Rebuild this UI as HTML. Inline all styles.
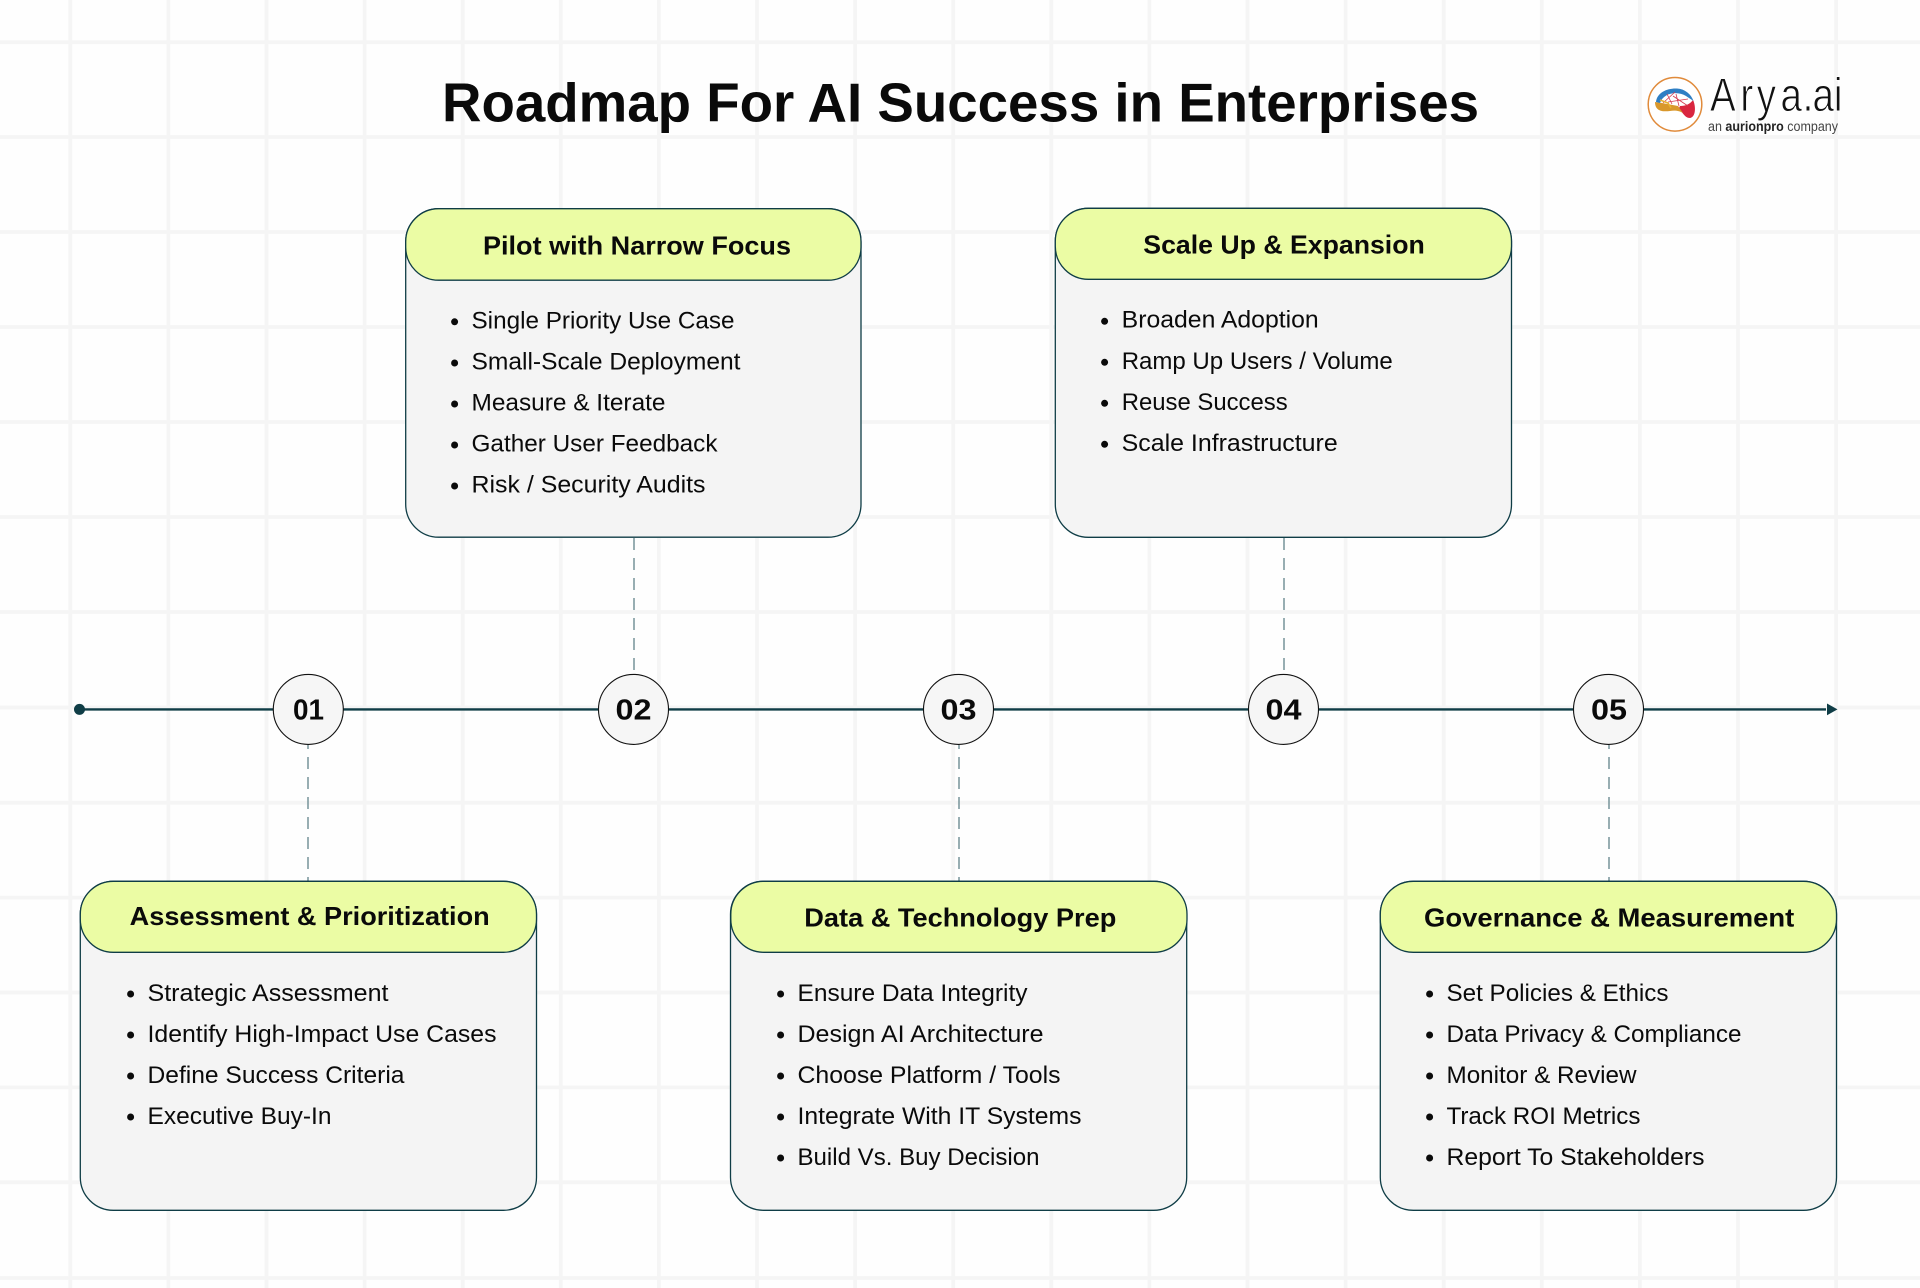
<!DOCTYPE html>
<html><head><meta charset="utf-8"><title>Roadmap For AI Success in Enterprises</title>
<style>
html,body{margin:0;padding:0;background:#fefefe}
svg{display:block}
text{font-family:"Liberation Sans",sans-serif;fill:#0a0a0a}
.h{font-size:26px;font-weight:700}
.l{font-size:24px}
.n{font-size:29px;font-weight:700}
</style></head><body>
<svg width="1920" height="1288" viewBox="0 0 1920 1288" xmlns="http://www.w3.org/2000/svg">
<rect width="1920" height="1288" fill="#fefefe"/>
<g stroke="#f5f5f5" stroke-width="3.8" fill="none">
<path d="M70.3 0V1288M168.4 0V1288M266.5 0V1288M364.6 0V1288M462.7 0V1288M560.8 0V1288M658.9 0V1288M757 0V1288M855.1 0V1288M953.2 0V1288M1051.3 0V1288M1149.4 0V1288M1247.5 0V1288M1345.6 0V1288M1443.7 0V1288M1541.8 0V1288M1639.9 0V1288M1738 0V1288M1836.1 0V1288"/>
<path d="M0 42.2H1920M0 137H1920M0 232H1920M0 327H1920M0 422H1920M0 517H1920M0 612H1920M0 707.5H1920M0 802.7H1920M0 897.6H1920M0 992.5H1920M0 1087.4H1920M0 1182.3H1920M0 1278H1920"/>
</g>

<text x="442" y="121.7" font-size="54.5" font-weight="700" textLength="1037" lengthAdjust="spacingAndGlyphs">Roadmap For AI Success in Enterprises</text>

<!-- logo -->
<circle cx="1675" cy="104.3" r="26.8" fill="#fff" stroke="#e08a3a" stroke-width="1.5"/>
<path d="M1680 106C1686 106 1690 104 1693 100C1696 106 1696 117 1690 118C1684 118 1684 112 1678 110Z" fill="#d9263f"/>
<path d="M1655 102C1655 111 1662 112 1670 111C1675 110 1680 111 1683 113L1678 106L1662 103Z" fill="#d9982c"/>
<path d="M1656 102C1657 92 1668 88 1677 88.5C1685 89 1691 94 1693.500 101L1686 96C1678 91 1664 92 1660 103Z" fill="#2f7fc4"/>
<path d="M1667 94L1672 104M1676 94L1679 106M1668 102L1688 99M1673 96L1688 106M1663 103L1675 92" stroke="#d6394f" stroke-width="0.8" fill="none"/>
<path d="M1660 100L1668 103L1671 108" stroke="#e7b12f" stroke-width="1.6" fill="none"/>
<g transform="translate(1710 111) scale(.82 1)"><text x="0 37 57 86 113 125 151" y="0" font-size="47" style="fill:#111;stroke:#fefefe;stroke-width:.9">Arya.ai</text></g>
<text x="1708" y="131" font-size="13.5" textLength="130" lengthAdjust="spacingAndGlyphs" style="fill:#444">an <tspan font-weight="700" style="fill:#222">aurionpro</tspan> company</text>

<!-- timeline -->
<path d="M80 709.4H1826" stroke="#0f3d46" stroke-width="2.4"/>
<circle cx="79.5" cy="709.4" r="5.5" fill="#0f3d46"/>
<path d="M1827 703.5L1837.5 709.4L1827 715.2Z" fill="#0f3d46"/>

<g stroke="#7f9aa0" stroke-width="1.6" stroke-dasharray="12 8" fill="none">
<path d="M634 538V672"/><path d="M1284 538V672"/>
<path d="M308 745V881" stroke-dashoffset="8"/><path d="M959 745V881" stroke-dashoffset="8"/><path d="M1609 745V881" stroke-dashoffset="8"/>
</g>

<g fill="#f6f6f6" stroke="#111" stroke-width="1.1">
<circle cx="308.3" cy="709.4" r="35"/><circle cx="633.5" cy="709.4" r="35"/><circle cx="958.5" cy="709.4" r="35"/><circle cx="1283.5" cy="709.4" r="35"/><circle cx="1608.5" cy="709.4" r="35"/>
</g>
<text class="n" x="293" y="719.3" textLength="31" lengthAdjust="spacingAndGlyphs">01</text>
<text class="n" x="615.5" y="719.3" textLength="36" lengthAdjust="spacingAndGlyphs">02</text>
<text class="n" x="940.5" y="719.3" textLength="36" lengthAdjust="spacingAndGlyphs">03</text>
<text class="n" x="1265.5" y="719.3" textLength="36" lengthAdjust="spacingAndGlyphs">04</text>
<text class="n" x="1591" y="719.3" textLength="36" lengthAdjust="spacingAndGlyphs">05</text>

<!-- boxes -->
<g stroke="#0f3d46" stroke-width="1.3">
<rect x="405.7" y="208.7" width="455.3" height="328.5" rx="33" fill="#f4f4f4"/>
<rect x="405.7" y="208.7" width="455.3" height="71.5" rx="33" fill="#ebfca4"/>
<rect x="1055.3" y="208.3" width="456.2" height="329" rx="33" fill="#f4f4f4"/>
<rect x="1055.3" y="208.3" width="456.2" height="71" rx="33" fill="#ebfca4"/>
<rect x="80.3" y="881.3" width="456.2" height="329" rx="33" fill="#f4f4f4"/>
<rect x="80.3" y="881.3" width="456.2" height="71" rx="33" fill="#ebfca4"/>
<rect x="730.5" y="881.3" width="456.2" height="329" rx="33" fill="#f4f4f4"/>
<rect x="730.8" y="881.3" width="456.2" height="71" rx="33" fill="#ebfca4"/>
<rect x="1380.3" y="881.3" width="456.2" height="329" rx="33" fill="#f4f4f4"/>
<rect x="1380.3" y="881.3" width="456.2" height="71" rx="33" fill="#ebfca4"/>
</g>

<!-- Box 2 -->
<text class="h" x="483" y="254.3" textLength="308" lengthAdjust="spacingAndGlyphs">Pilot with Narrow Focus</text>
<g fill="#0a0a0a"><circle cx="454.6" cy="321.8" r="3.5"/><circle cx="454.6" cy="363" r="3.5"/><circle cx="454.6" cy="404" r="3.5"/><circle cx="454.6" cy="445" r="3.5"/><circle cx="454.6" cy="486" r="3.5"/></g>
<text class="l" x="471.5" y="328.3" textLength="263" lengthAdjust="spacingAndGlyphs">Single Priority Use Case</text>
<text class="l" x="471.5" y="369.5" textLength="269" lengthAdjust="spacingAndGlyphs">Small-Scale Deployment</text>
<text class="l" x="471.5" y="410.5" textLength="194" lengthAdjust="spacingAndGlyphs">Measure &amp; Iterate</text>
<text class="l" x="471.5" y="451.6" textLength="246" lengthAdjust="spacingAndGlyphs">Gather User Feedback</text>
<text class="l" x="471.5" y="492.7" textLength="234" lengthAdjust="spacingAndGlyphs">Risk / Security Audits</text>

<!-- Box 4 -->
<text class="h" x="1143.3" y="253.3" textLength="281.5" lengthAdjust="spacingAndGlyphs">Scale Up &amp; Expansion</text>
<g fill="#0a0a0a"><circle cx="1104.6" cy="321.3" r="3.5"/><circle cx="1104.6" cy="362.3" r="3.5"/><circle cx="1104.6" cy="403.3" r="3.5"/><circle cx="1104.6" cy="444.3" r="3.5"/></g>
<text class="l" x="1121.7" y="327.7" textLength="197" lengthAdjust="spacingAndGlyphs">Broaden Adoption</text>
<text class="l" x="1121.7" y="368.8" textLength="271" lengthAdjust="spacingAndGlyphs">Ramp Up Users / Volume</text>
<text class="l" x="1121.7" y="409.8" textLength="166" lengthAdjust="spacingAndGlyphs">Reuse Success</text>
<text class="l" x="1121.7" y="450.9" textLength="216" lengthAdjust="spacingAndGlyphs">Scale Infrastructure</text>

<!-- Box 1 -->
<text class="h" x="129.7" y="925" textLength="360" lengthAdjust="spacingAndGlyphs">Assessment &amp; Prioritization</text>
<g fill="#0a0a0a"><circle cx="130.6" cy="994" r="3.5"/><circle cx="130.6" cy="1035" r="3.5"/><circle cx="130.6" cy="1076" r="3.5"/><circle cx="130.6" cy="1117" r="3.5"/></g>
<text class="l" x="147.5" y="1001" textLength="241" lengthAdjust="spacingAndGlyphs">Strategic Assessment</text>
<text class="l" x="147.5" y="1042" textLength="349" lengthAdjust="spacingAndGlyphs">Identify High-Impact Use Cases</text>
<text class="l" x="147.5" y="1083" textLength="257" lengthAdjust="spacingAndGlyphs">Define Success Criteria</text>
<text class="l" x="147.5" y="1124" textLength="184" lengthAdjust="spacingAndGlyphs">Executive Buy-In</text>

<!-- Box 3 -->
<text class="h" x="804.3" y="926.7" textLength="312" lengthAdjust="spacingAndGlyphs">Data &amp; Technology Prep</text>
<g fill="#0a0a0a"><circle cx="780.6" cy="994" r="3.5"/><circle cx="780.6" cy="1035" r="3.5"/><circle cx="780.6" cy="1076" r="3.5"/><circle cx="780.6" cy="1117" r="3.5"/><circle cx="780.6" cy="1158" r="3.5"/></g>
<text class="l" x="797.5" y="1001" textLength="230" lengthAdjust="spacingAndGlyphs">Ensure Data Integrity</text>
<text class="l" x="797.5" y="1042" textLength="246" lengthAdjust="spacingAndGlyphs">Design AI Architecture</text>
<text class="l" x="797.5" y="1083" textLength="263" lengthAdjust="spacingAndGlyphs">Choose Platform / Tools</text>
<text class="l" x="797.5" y="1124" textLength="284" lengthAdjust="spacingAndGlyphs">Integrate With IT Systems</text>
<text class="l" x="797.5" y="1165" textLength="242" lengthAdjust="spacingAndGlyphs">Build Vs. Buy Decision</text>

<!-- Box 5 -->
<text class="h" x="1424" y="926.7" textLength="370.3" lengthAdjust="spacingAndGlyphs">Governance &amp; Measurement</text>
<g fill="#0a0a0a"><circle cx="1429.6" cy="994" r="3.5"/><circle cx="1429.6" cy="1035" r="3.5"/><circle cx="1429.6" cy="1076" r="3.5"/><circle cx="1429.6" cy="1117" r="3.5"/><circle cx="1429.6" cy="1158" r="3.5"/></g>
<text class="l" x="1446.5" y="1001" textLength="222" lengthAdjust="spacingAndGlyphs">Set Policies &amp; Ethics</text>
<text class="l" x="1446.5" y="1042" textLength="295" lengthAdjust="spacingAndGlyphs">Data Privacy &amp; Compliance</text>
<text class="l" x="1446.5" y="1083" textLength="190" lengthAdjust="spacingAndGlyphs">Monitor &amp; Review</text>
<text class="l" x="1446.5" y="1124" textLength="194" lengthAdjust="spacingAndGlyphs">Track ROI Metrics</text>
<text class="l" x="1446.5" y="1165" textLength="258" lengthAdjust="spacingAndGlyphs">Report To Stakeholders</text>
</svg>
</body></html>
